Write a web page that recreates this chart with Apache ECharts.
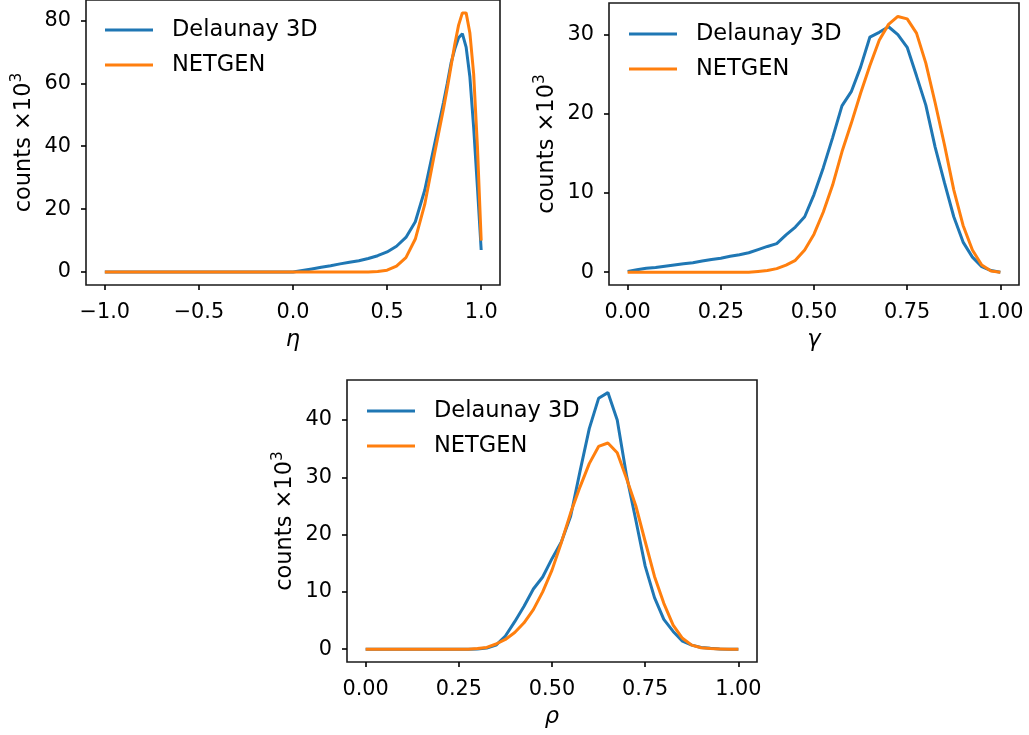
<!DOCTYPE html>
<html>
<head>
<meta charset="utf-8">
<title>Element quality histograms</title>
<script src="https://cdn.jsdelivr.net/npm/echarts@6/dist/echarts.min.js"></script>
<style>
  html, body { margin: 0; padding: 0; background: #ffffff; }
  #chart { width: 1029px; height: 735px; }
</style>
</head>
<body>
<div id="chart"></div>
<script>
// ---- data (counts in thousands) ----
const seriesNames = ['Delaunay 3D', 'NETGEN'];

// eta quality measure
const etaX = [-1.0, -0.9, -0.8, -0.7, -0.6, -0.5, -0.4, -0.3, -0.2, -0.1, 0.0,
  0.05, 0.1, 0.15, 0.2, 0.25, 0.3, 0.35, 0.4, 0.45, 0.5, 0.55, 0.6, 0.65, 0.7, 0.75,
  0.8, 0.82, 0.84, 0.86, 0.88, 0.9, 0.92, 0.94, 0.96, 0.98, 1.0];
const etaDelaunay = [0, 0, 0, 0, 0, 0, 0, 0, 0, 0, 0,
  0.5, 1.0, 1.5, 2.0, 2.6, 3.1, 3.6, 4.3, 5.2, 6.4, 8.2, 11.0, 16.0, 26.0, 40.0,
  54.0, 60.0, 66.5, 71.0, 74.5, 75.8, 71.5, 62.0, 46.0, 27.0, 7.0];
const etaNetgen = [0, 0, 0, 0, 0, 0, 0, 0, 0, 0, 0,
  0, 0, 0, 0, 0, 0, 0, 0.05, 0.2, 0.6, 1.9, 4.6, 10.5, 21.5, 37.0,
  52.0, 58.5, 65.5, 72.5, 78.5, 82.4, 82.4, 76.0, 63.0, 40.0, 10.0];

// gamma quality measure
const gammaX = [0.0, 0.025, 0.05, 0.075, 0.1, 0.125, 0.15, 0.175, 0.2, 0.225,
  0.25, 0.275, 0.3, 0.325, 0.35, 0.375, 0.4, 0.425, 0.45, 0.475,
  0.5, 0.525, 0.55, 0.575, 0.6, 0.625, 0.65, 0.675, 0.7, 0.725,
  0.75, 0.775, 0.8, 0.825, 0.85, 0.875, 0.9, 0.925, 0.95, 0.975, 1.0];
const gammaDelaunay = [0.1, 0.3, 0.5, 0.6, 0.75, 0.9, 1.05, 1.2, 1.4, 1.6,
  1.75, 2.0, 2.2, 2.45, 2.85, 3.25, 3.6, 4.7, 5.7, 7.0,
  9.8, 13.2, 17.0, 21.0, 22.8, 25.9, 29.7, 30.3, 31.0, 30.0,
  28.4, 24.8, 21.1, 15.8, 11.3, 7.0, 3.8, 1.9, 0.7, 0.2, 0.0];
const gammaNetgen = [0, 0, 0, 0, 0, 0, 0, 0, 0, 0,
  0, 0, 0, 0, 0.1, 0.2, 0.45, 0.9, 1.5, 2.8,
  4.8, 7.6, 11.0, 15.2, 18.8, 22.6, 26.1, 29.3, 31.3, 32.3,
  32.0, 30.2, 26.4, 21.4, 16.1, 10.4, 5.9, 2.8, 0.9, 0.15, 0.0];

// rho quality measure
const rhoX = [0.0, 0.025, 0.05, 0.075, 0.1, 0.125, 0.15, 0.175, 0.2, 0.225,
  0.25, 0.275, 0.3, 0.325, 0.35, 0.375, 0.4, 0.425, 0.45, 0.475,
  0.5, 0.525, 0.55, 0.575, 0.6, 0.625, 0.65, 0.675, 0.7, 0.725,
  0.75, 0.775, 0.8, 0.825, 0.85, 0.875, 0.9, 0.925, 0.95, 0.975, 1.0];
const rhoDelaunay = [0, 0, 0, 0, 0, 0, 0, 0, 0, 0,
  0, 0, 0.05, 0.2, 0.7, 2.3, 4.8, 7.5, 10.5, 12.6,
  15.8, 18.7, 23.2, 31.0, 38.5, 43.8, 44.8, 40.0, 30.3, 22.5,
  14.5, 9.0, 5.2, 3.1, 1.4, 0.7, 0.3, 0.15, 0.05, 0, 0];
const rhoNetgen = [0, 0, 0, 0, 0, 0, 0, 0, 0, 0,
  0, 0, 0.1, 0.3, 0.9, 1.7, 2.9, 4.6, 6.9, 10.0,
  13.8, 18.6, 23.8, 28.3, 32.4, 35.4, 36.0, 34.3, 29.8, 25.0,
  18.8, 12.7, 8.0, 4.2, 1.9, 0.7, 0.25, 0.1, 0.05, 0, 0];

// tick positions
const etaTicks = [-1.0, -0.5, 0.0, 0.5, 1.0];
const unitTicks = [0.0, 0.25, 0.5, 0.75, 1.0];
const etaCountTicks = [0, 20, 40, 60, 80];
const gammaCountTicks = [0, 10, 20, 30];
const rhoCountTicks = [0, 10, 20, 30, 40];

// ---- styling ----
const FONT = 'DejaVu Sans';
const INK = '#000000';
const BLUE = '#1f77b4';
const ORANGE = '#ff7f0e';
const TICK_FS = 20.8;
const TEXT_FS = 22.5;

const pairs = (xs, ys) => xs.map((x, i) => [x, ys[i]]);
const fmtSigned1 = v => (v < 0 ? '\u2212' : '') + Math.abs(v).toFixed(1);
const fmt2 = v => v.toFixed(2);

function xAxisDef(gridIndex, min, max, ticks, fmt, name) {
  return {
    type: 'value', gridIndex, min, max,
    splitLine: { show: false },
    axisLine: { show: false, onZero: false },
    axisTick: { show: true, inside: false, length: 5, customValues: ticks,
      lineStyle: { color: INK, width: 1.6 } },
    axisLabel: { customValues: ticks, formatter: fmt, margin: 17,
      color: INK, fontFamily: FONT, fontSize: TICK_FS },
    name, nameLocation: 'middle', nameGap: 44,
    nameTextStyle: { color: INK, fontFamily: FONT, fontSize: TEXT_FS, fontStyle: 'italic' }
  };
}

function yAxisDef(gridIndex, min, max, ticks) {
  return {
    type: 'value', gridIndex, min, max,
    splitLine: { show: false },
    axisLine: { show: false, onZero: false },
    axisTick: { show: true, inside: false, length: 5, customValues: ticks,
      lineStyle: { color: INK, width: 1.6 } },
    axisLabel: { customValues: ticks, formatter: v => String(v), margin: 15,
      color: INK, fontFamily: FONT, fontSize: TICK_FS },
    name: 'counts \u00d710{sup|3}', nameLocation: 'middle', nameRotate: 90, nameGap: 46,
    nameTextStyle: { color: INK, fontFamily: FONT, fontSize: TEXT_FS,
      rich: { sup: { fontSize: 15.5, fontFamily: FONT, color: INK, padding: [0, 0, 15, 0] } } }
  };
}

function legendDef(left, top) {
  return {
    data: seriesNames, orient: 'vertical', left, top, padding: 0,
    icon: 'rect', itemWidth: 48, itemHeight: 3, itemGap: 11, selectedMode: false,
    textStyle: { color: INK, fontFamily: FONT, fontSize: TEXT_FS, lineHeight: 24,
      padding: [0, 0, 0, 14] }
  };
}

function lineSeries(name, idx, data, color) {
  return {
    type: 'line', name, xAxisIndex: idx, yAxisIndex: idx, data,
    symbol: 'none', smooth: false, color,
    lineStyle: { color, width: 3 }, z: name === 'NETGEN' ? 3 : 2
  };
}

const grids = [
  { left: 86, top: -1, width: 414, height: 286 },
  { left: 609, top: 3, width: 410, height: 282 },
  { left: 347, top: 380, width: 410, height: 282 }
].map(g => Object.assign({ show: true, borderColor: '#1a1a1a', borderWidth: 1.6,
  backgroundColor: 'transparent', containLabel: false }, g));

const option = {
  animation: false,
  backgroundColor: '#ffffff',
  grid: grids,
  legend: [legendDef(105, 18), legendDef(629, 22), legendDef(367, 399)],
  xAxis: [
    xAxisDef(0, -1.1, 1.1, etaTicks, fmtSigned1, '\u03b7'),
    xAxisDef(1, -0.05, 1.05, unitTicks, fmt2, '\u03b3'),
    xAxisDef(2, -0.05, 1.05, unitTicks, fmt2, '\u03c1')
  ],
  yAxis: [
    yAxisDef(0, -4.12, 86.5, etaCountTicks),
    yAxisDef(1, -1.62, 34.0, gammaCountTicks),
    yAxisDef(2, -2.24, 47.0, rhoCountTicks)
  ],
  series: [
    lineSeries('Delaunay 3D', 0, pairs(etaX, etaDelaunay), BLUE),
    lineSeries('NETGEN', 0, pairs(etaX, etaNetgen), ORANGE),
    lineSeries('Delaunay 3D', 1, pairs(gammaX, gammaDelaunay), BLUE),
    lineSeries('NETGEN', 1, pairs(gammaX, gammaNetgen), ORANGE),
    lineSeries('Delaunay 3D', 2, pairs(rhoX, rhoDelaunay), BLUE),
    lineSeries('NETGEN', 2, pairs(rhoX, rhoNetgen), ORANGE)
  ]
};

const chart = echarts.init(document.getElementById('chart'), null, { renderer: 'canvas' });
chart.setOption(option);
</script>
</body>
</html>
